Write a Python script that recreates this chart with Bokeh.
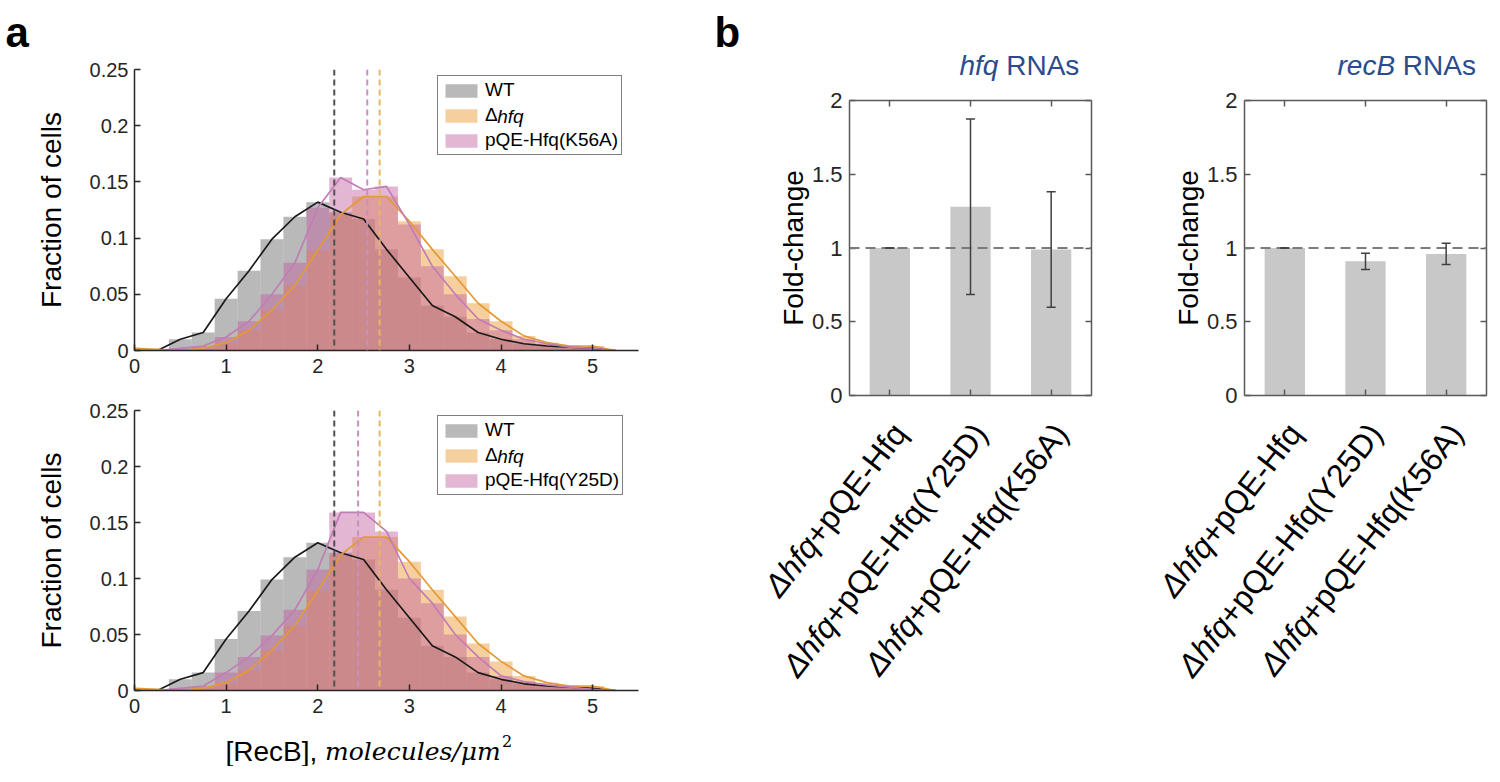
import math
from bokeh.plotting import figure
from bokeh.models import (ColumnDataSource, Legend, LegendItem, Label, FixedTicker,
                          LinearAxis, Range1d, Span, Whisker, TeeHead, NumeralTickFormatter)
from bokeh.layouts import row, column
from bokeh.embed import file_html
from bokeh.resources import INLINE

SANS = "Liberation Sans"
SERIF = "DejaVu Serif"

# ---------------- data: panel a (histograms of [RecB]) ----------------
bin_centers = [0.0, 0.25, 0.5, 0.75, 1.0, 1.25, 1.5, 1.75, 2.0, 2.25, 2.5, 2.75,
               3.0, 3.25, 3.5, 3.75, 4.0, 4.25, 4.5, 4.75, 5.0, 5.25]
wt_frac = [0.0, 0.0, 0.010, 0.016, 0.046, 0.071, 0.099, 0.119, 0.132, 0.123, 0.117, 0.090,
           0.065, 0.040, 0.030, 0.016, 0.010, 0.006, 0.004, 0.003, 0.002, 0.0]
dhfq_frac = [0.002, 0.001, 0.0, 0.002, 0.007, 0.018, 0.036, 0.058, 0.089, 0.121, 0.137, 0.137,
             0.115, 0.090, 0.066, 0.042, 0.026, 0.013, 0.007, 0.004, 0.004, 0.0]
k56a_frac = [0.0, 0.0, 0.002, 0.004, 0.012, 0.026, 0.050, 0.078, 0.127, 0.154, 0.143, 0.146,
             0.112, 0.075, 0.050, 0.028, 0.018, 0.010, 0.006, 0.003, 0.002, 0.0]
y25d_frac = [0.0, 0.0, 0.002, 0.004, 0.016, 0.030, 0.049, 0.072, 0.108, 0.159, 0.159, 0.142,
             0.100, 0.078, 0.050, 0.030, 0.013, 0.008, 0.005, 0.003, 0.001, 0.0]
mean_wt = 2.18
mean_dhfq = 2.675
mean_k56a = 2.54
mean_y25d = 2.44
x_ticks_a = [0, 1, 2, 3, 4, 5]
y_ticks_a = [0, 0.05, 0.1, 0.15, 0.2, 0.25]

# ---------------- data: panel b (fold change) ----------------
b_groups = [1, 2, 3]
b_prefix = "Δhfq"
b_suffix = ["+pQE-Hfq", "+pQE-Hfq(Y25D)", "+pQE-Hfq(K56A)"]
hfq_fc = [1.0, 1.28, 0.99]
hfq_err = [0.0, 0.595, 0.392]
recb_fc = [1.0, 0.91, 0.96]
recb_err = [0.0, 0.055, 0.072]
y_ticks_b = [0, 0.5, 1, 1.5, 2]

C_GRAY, C_ORANGE, C_PINK = "#808080", "#eea040", "#c060a0"
AX = "#262626"
TITLE_BLUE = "#2b4c8c"

# Arial / Liberation Sans advance widths (em) used to butt text pieces together
W = {' ': .278, '+': .584, 'p': .556, 'Q': .778, 'E': .667, '-': .333, 'H': .722, 'f': .278,
     'q': .556, '(': .333, ')': .333, 'Y': .667, '2': .556, '5': .556, 'D': .722, 'K': .667,
     '6': .556, 'A': .667, 'h': .556, 'Δ': .668, 'r': .333, 'e': .556, 'c': .5, 'B': .667,
     'R': .722, 'N': .722, 's': .5, '[': .278, ']': .278, ',': .278}


def tw(s, size):
    return sum(W.get(ch, .556) for ch in s) * size


def strip(width, height, x_range=None):
    p = figure(width=width, height=height, output_backend="svg", toolbar_location=None,
               x_axis_location=None, y_axis_location=None, min_border=0,
               x_range=x_range if x_range is not None else Range1d(0, 1),
               y_range=Range1d(0, 1), frame_align=False)
    p.grid.visible = False
    p.outline_line_color = None
    return p


def style_axis(ax, size, color=AX, lw=1.5):
    ax.axis_line_color = color
    ax.axis_line_width = lw
    ax.major_tick_line_color = color
    ax.major_tick_line_width = lw
    ax.major_tick_in = 6
    ax.major_tick_out = 0
    ax.minor_tick_line_color = None
    ax.major_label_text_font = SANS
    ax.major_label_text_font_size = size
    ax.major_label_text_color = AX
    ax.axis_label_text_font = SANS
    ax.axis_label_text_font_style = "normal"
    ax.axis_label_text_color = "#000000"


def hist_panel(pink_vals, pink_mean, pink_label, height, top_b, bot_b):
    p = figure(width=660, height=height, x_range=Range1d(0, 5.5), y_range=Range1d(0, 0.25),
               output_backend="svg", toolbar_location=None, frame_align=False,
               min_border_left=134, min_border_right=22, min_border_top=top_b,
               min_border_bottom=bot_b)
    p.grid.visible = False
    p.outline_line_color = None
    src = ColumnDataSource(dict(x=bin_centers, wt=wt_frac, dh=dhfq_frac, pk=pink_vals))
    bw = bin_centers[1] - bin_centers[0]
    r_wt = p.vbar(x="x", top="wt", width=bw, source=src, fill_color=C_GRAY,
                  fill_alpha=0.55, line_color=None)
    r_dh = p.vbar(x="x", top="dh", width=bw, source=src, fill_color=C_ORANGE,
                  fill_alpha=0.5, line_color=None)
    r_pk = p.vbar(x="x", top="pk", width=bw, source=src, fill_color=C_PINK,
                  fill_alpha=0.45, line_color=None)
    for m, c in [(mean_wt, "#505050"), (pink_mean, "#c890c0"), (mean_dhfq, "#e6b85c")]:
        p.add_layout(Span(location=m, dimension="height", line_color=c,
                          line_dash="6 4", line_width=2))
    p.line("x", "wt", source=src, line_color="#1a1a1a", line_width=1.7)
    p.line("x", "dh", source=src, line_color="#e39a35", line_width=1.7)
    p.line("x", "pk", source=src, line_color="#c27cb6", line_width=1.7)

    style_axis(p.xaxis[0], "20px")
    style_axis(p.yaxis[0], "20px")
    p.xaxis.ticker = FixedTicker(ticks=x_ticks_a)
    p.yaxis.ticker = FixedTicker(ticks=y_ticks_a)
    p.xaxis.formatter = NumeralTickFormatter(format="0")
    p.yaxis.formatter = NumeralTickFormatter(format="0.[00]")
    p.xaxis.major_label_standoff = 8
    p.yaxis.major_label_standoff = 6
    p.yaxis.axis_label = "Fraction of cells"
    p.yaxis.axis_label_text_font_size = "28px"
    p.yaxis.axis_label_standoff = 20

    vx, vy, pad, gw, st, lh, sp = 303, 195, 3, 40, 4, 22, 3
    leg = Legend(items=[LegendItem(label="WT", renderers=[r_wt]),
                        LegendItem(label="Δ", renderers=[r_dh]),
                        LegendItem(label=pink_label, renderers=[r_pk])],
                 location=(vx, vy), orientation="vertical",
                 border_line_color="#000000", border_line_width=1.5,
                 background_fill_color="white", background_fill_alpha=0.0,
                 padding=pad, spacing=sp, margin=0, glyph_width=gw, glyph_height=17,
                 label_height=lh, label_standoff=st, label_text_font=SANS,
                 label_text_font_size="19px", label_text_color="#000000")
    p.add_layout(leg)
    p.add_layout(Label(x=vx + pad + gw + st + tw("Δ", 19), y=vy + pad + lh + sp + lh / 2.0,
                       x_units="screen", y_units="screen", text="hfq", text_font=SANS,
                       text_font_size="19px", text_font_style="italic",
                       text_baseline="middle", text_color="#000000", level="overlay"))
    return p


# ---------------- panel a column ----------------
sa_top = strip(660, 55)
sa_top.add_layout(Label(x=5, y=47, x_units="screen", y_units="screen", text="a",
                        text_font=SANS, text_font_size="42px", text_font_style="bold",
                        text_baseline="top", text_color="#000000"))
pa1 = hist_panel(k56a_frac, mean_k56a, "pQE-Hfq(K56A)", 340, 14, 45)
pa2 = hist_panel(y25d_frac, mean_y25d, "pQE-Hfq(Y25D)", 327, 15, 32)
sa_bot = strip(660, 44)
xl_x, xl_y = 225, 15
serif_x = xl_x + tw("[RecB], ", 28)
sa_bot.add_layout(Label(x=xl_x, y=xl_y, x_units="screen", y_units="screen", text="[RecB],",
                        text_font=SANS, text_font_size="28px", text_baseline="alphabetic",
                        text_color="#000000"))
sa_bot.add_layout(Label(x=serif_x, y=xl_y, x_units="screen",
                        y_units="screen", text="molecules/μm", text_font=SERIF,
                        text_font_size="25px", text_font_style="italic",
                        text_baseline="alphabetic", text_color="#000000"))
sa_bot.add_layout(Label(x=serif_x + 177, y=xl_y + 11, x_units="screen",
                        y_units="screen", text="2", text_font=SERIF, text_font_size="16px",
                        text_baseline="alphabetic", text_color="#000000"))
col_a = column(sa_top, pa1, pa2, sa_bot)


# ---------------- panel b ----------------
K = 242 / 3.0   # pixels per category unit in panel b frames
TOP_H, FIG_H = 87, 321


def fold_panel(fc, err, width, left_b, right_b):
    p = figure(width=width, height=FIG_H, x_range=Range1d(0.5, 3.5), y_range=Range1d(0, 2),
               output_backend="svg", toolbar_location=None, frame_align=False,
               min_border_left=left_b, min_border_right=right_b,
               min_border_top=13, min_border_bottom=13)
    p.grid.visible = False
    p.outline_line_color = None
    src = ColumnDataSource(dict(x=b_groups, fc=fc,
                                upper=[f + e for f, e in zip(fc, err)],
                                lower=[f - e for f, e in zip(fc, err)]))
    p.vbar(x="x", top="fc", width=0.5, source=src, fill_color="#c8c8c8", line_color=None)
    p.add_layout(Span(location=1, dimension="width", line_color="#7a7a7a",
                      line_dash="10 6", line_width=2))
    ec = "#404040"
    wk = Whisker(source=src, base="x", upper="upper", lower="lower", line_color=ec,
                 line_width=1.5, level="annotation",
                 upper_head=TeeHead(size=9, line_color=ec, line_width=1.5),
                 lower_head=TeeHead(size=9, line_color=ec, line_width=1.5))
    p.add_layout(wk)

    p.add_layout(LinearAxis(), "right")
    p.add_layout(LinearAxis(), "above")
    for ax in p.axis:
        style_axis(ax, "22px", color="#5a5a5a")
    for ax in p.yaxis:
        ax.ticker = FixedTicker(ticks=y_ticks_b)
        ax.formatter = NumeralTickFormatter(format="0.[0]")
    for ax in p.xaxis:
        ax.ticker = FixedTicker(ticks=b_groups)
        ax.major_label_overrides = {g: "" for g in b_groups}
        ax.major_label_standoff = 0
    p.right[0].major_label_overrides = {t: "" for t in y_ticks_b}
    p.right[0].major_label_standoff = 0
    p.left[0].major_label_standoff = 7
    p.left[0].axis_label = "Fold-change"
    p.left[0].axis_label_text_font_size = "28px"
    p.left[0].axis_label_standoff = 0
    return p


def label_strip(width, left_b, right_b):
    xr = Range1d(0.5 - left_b / K, 3.5 + right_b / K)
    s = strip(width, 766 - TOP_H - FIG_H, x_range=xr)
    ang = math.radians(52)
    fs = 32
    y0, ox = 339, 10
    for g, suf in zip(b_groups, b_suffix):
        s.add_layout(Label(x=g, y=y0, x_units="data", y_units="screen", x_offset=ox,
                           text=suf, angle=ang, text_align="right", text_baseline="middle",
                           text_font=SANS, text_font_size=f"{fs}px", text_color="#000000"))
        w = tw(suf, fs)
        s.add_layout(Label(x=g, y=y0 - w * math.sin(ang), x_units="data", y_units="screen",
                           x_offset=ox - w * math.cos(ang), text=b_prefix, angle=ang,
                           text_align="right", text_baseline="middle", text_font=SANS,
                           text_font_size=f"{fs}px", text_font_style="italic",
                           text_color="#000000"))
    return s


pb1 = fold_panel(hfq_fc, hfq_err, 442, 189, 11)
pb2 = fold_panel(recb_fc, recb_err, 388, 142, 4)
lb1 = label_strip(442, 189, 11)
lb2 = label_strip(388, 142, 4)

sb_top = strip(830, TOP_H)
sb_top.add_layout(Label(x=54, y=TOP_H - 8, x_units="screen", y_units="screen", text="b",
                        text_font=SANS, text_font_size="42px", text_font_style="bold",
                        text_baseline="top", text_color="#000000"))
TS = 28
for tx, it in [(299, "hfq"), (677, "recB")]:
    sb_top.add_layout(Label(x=tx, y=7, x_units="screen", y_units="screen", text=it,
                            text_font=SANS, text_font_size=f"{TS}px",
                            text_font_style="italic", text_color=TITLE_BLUE))
    sb_top.add_layout(Label(x=tx + tw(it + " ", TS), y=7, x_units="screen", y_units="screen",
                            text="RNAs", text_font=SANS, text_font_size=f"{TS}px",
                            text_color=TITLE_BLUE))

col_b = column(sb_top, row(pb1, pb2), row(lb1, lb2))

layout = row(col_a, col_b)
with open("out.html", "w") as f:
    f.write(file_html(layout, INLINE))
